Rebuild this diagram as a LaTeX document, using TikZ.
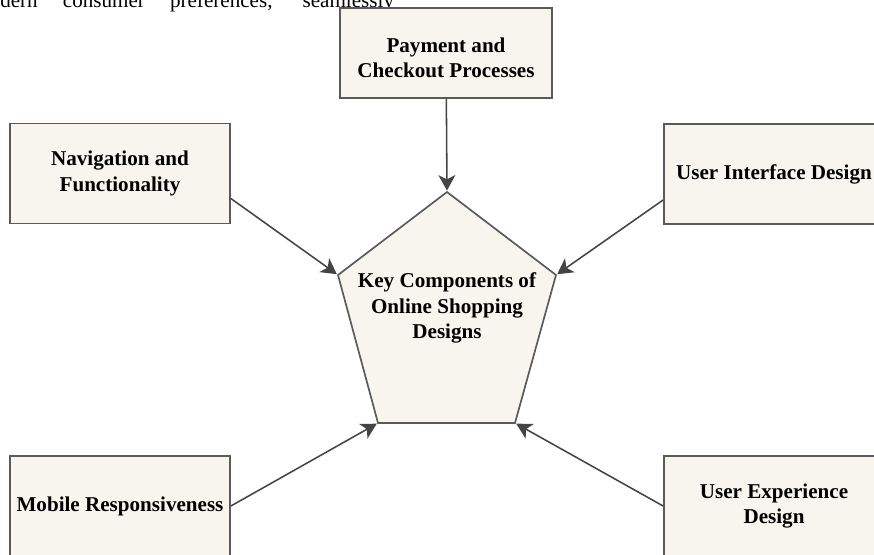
\documentclass[tikz,border=0pt]{standalone}
\usepackage{fontspec}
\setmainfont{Liberation Serif}
\usetikzlibrary{arrows.meta,calc}

\definecolor{boxfill}{HTML}{F7F5EE}
\definecolor{boxline}{HTML}{5A5A5A}
\definecolor{arrowcol}{HTML}{444444}

\begin{document}
\begin{tikzpicture}[x=0.025cm,y=-0.025cm,
	comp box/.style={draw=boxline,fill=boxfill,line width=1.2pt,align=center,
		minimum width=5.5cm,minimum height=2.5cm,inner sep=0pt,
		font=\fontsize{15}{18}\selectfont\bfseries},
	key shape/.style={draw=boxline,fill=boxfill,line width=1.2pt},
	link/.style={color=arrowcol,line width=1.1pt,
		-{Stealth[length=11pt,width=12pt,inset=3pt]},shorten >=1pt}]
	
	\useasboundingbox (0,0) rectangle (874,554);
	
	% running text above, cut by the page edge
	\node[anchor=base west,inner sep=0pt,font=\fontsize{15}{18}\selectfont] (line) at (0,7)
		{\makebox[280pt][s]{dern consumer preferences, seamlessly}};
	
	% the pentagon in the middle
	\coordinate (p1) at (447,192);
	\coordinate (p2) at (338,275);
	\coordinate (p3) at (556,275);
	\coordinate (p4) at (378,423);
	\coordinate (p5) at (515,423);
	\draw[key shape] (p1) -- (p3) -- (p5) -- (p4) -- (p2) -- cycle;
	\node[align=center,font=\fontsize{15}{18}\selectfont\bfseries] (key) at (447,308)
		{Key Components of\\Online Shopping\\Designs};
	
	% the five components
	\node[comp box,minimum width=5.3cm,minimum height=2.25cm] (pay) at (446,53) {};
	\node[align=center,font=\fontsize{15}{18}\selectfont\bfseries] (paytext) at (446,57.5) {Payment and\\Checkout Processes};
	\node[comp box] (nav) at (120,173.5) {Navigation and\\Functionality};
	\node[comp box] (ui) at (774,174) {User Interface Design};
	\node[comp box] (mob) at (120,506) {Mobile Responsiveness};
	\node[comp box] (ux) at (774,506) {User Experience\\Design};
	
	\path[link]
	(pay) edge (p1)
	($(nav.east)+(0,25)$) edge (p2)
	($(ui.west)+(0,26)$) edge (p3)
	(mob.east) edge (p4)
	(ux.west) edge (p5);
\end{tikzpicture}
\end{document}
